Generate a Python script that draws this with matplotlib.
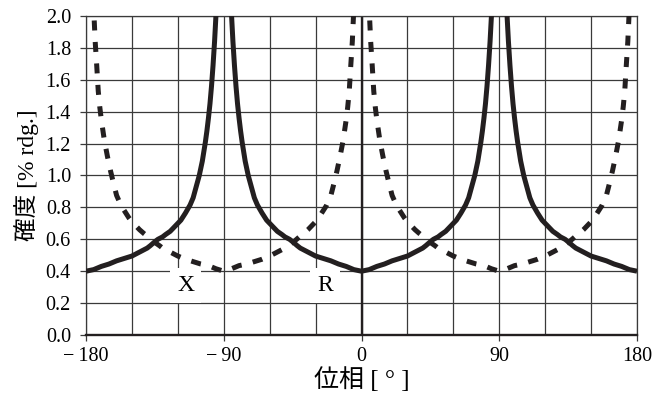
import matplotlib
matplotlib.use("Agg")
import matplotlib.pyplot as plt
import numpy as np

# ---- data ----
# Solid curve "R": accuracy [% rdg.] vs phase [deg], in four branches
r_phase_a = [-180, -175, -170, -165, -160, -155, -150, -145, -140, -138, -135, -133, -130, -128,
             -125, -123, -120, -118, -117, -115, -112, -110, -108, -106, -104, -102, -101, -100,
             -99, -98, -97, -96, -95, -94]
r_acc_a = [0.40, 0.41, 0.43, 0.445, 0.465, 0.48, 0.495, 0.52, 0.545, 0.56, 0.585, 0.60, 0.615, 0.63,
           0.65, 0.67, 0.70, 0.72, 0.735, 0.765, 0.815, 0.86, 0.93, 1.00, 1.09, 1.21, 1.28, 1.36,
           1.45, 1.56, 1.69, 1.84, 2.02, 2.25]
r_phase_b = [-86, -85, -84, -83, -82, -81, -80, -79, -78, -76, -74, -72, -70, -68, -65, -63, -62,
             -60, -57, -55, -52, -50, -47, -45, -42, -40, -35, -30, -25, -20, -15, -10, -5, 0]
r_acc_b = [2.25, 2.02, 1.84, 1.69, 1.56, 1.45, 1.36, 1.28, 1.21, 1.09, 1.00, 0.93, 0.86, 0.815,
           0.765, 0.735, 0.72, 0.70, 0.67, 0.65, 0.63, 0.615, 0.60, 0.585, 0.56, 0.545, 0.52, 0.495,
           0.48, 0.465, 0.445, 0.43, 0.41, 0.40]
r_phase_c = [5, 10, 15, 20, 25, 30, 35, 40, 42, 45, 47, 50, 52, 55, 57, 60, 62, 63, 65, 68, 70, 72,
             74, 76, 78, 79, 80, 81, 82, 83, 84, 85, 86]
r_acc_c = [0.41, 0.43, 0.445, 0.465, 0.48, 0.495, 0.52, 0.545, 0.56, 0.585, 0.60, 0.615, 0.63, 0.65,
           0.67, 0.70, 0.72, 0.735, 0.765, 0.815, 0.86, 0.93, 1.00, 1.09, 1.21, 1.28, 1.36, 1.45,
           1.56, 1.69, 1.84, 2.02, 2.25]
r_phase_d = [94, 95, 96, 97, 98, 99, 100, 101, 102, 104, 106, 108, 110, 112, 115, 117, 118, 120, 123,
             125, 128, 130, 133, 135, 138, 140, 145, 150, 155, 160, 165, 170, 175, 180]
r_acc_d = [2.25, 2.02, 1.84, 1.69, 1.56, 1.45, 1.36, 1.28, 1.21, 1.09, 1.00, 0.93, 0.86, 0.815,
           0.765, 0.735, 0.72, 0.70, 0.67, 0.65, 0.63, 0.615, 0.60, 0.585, 0.56, 0.545, 0.52, 0.495,
           0.48, 0.465, 0.445, 0.43, 0.41, 0.40]

# Dashed curve "X", negative-phase branch
x_phase_neg = [-176, -175, -174, -173, -172, -171, -170, -169, -168, -166, -164, -162, -160, -157,
               -155, -152, -150, -147, -145, -142, -140, -137, -135, -132, -130, -125, -120, -115,
               -110, -105, -100, -95, -90,
               -85, -80, -75, -70, -65, -60, -55, -50, -48, -45, -43, -40, -38, -35, -33, -30, -28,
               -25, -23, -20, -18, -16, -14, -12, -11, -10, -9, -8, -7, -6, -5, -4]
x_acc_neg = [2.30, 2.05, 1.84, 1.69, 1.53, 1.43, 1.35, 1.285, 1.22, 1.12, 1.03, 0.95, 0.875, 0.81,
             0.78, 0.735, 0.71, 0.68, 0.66, 0.635, 0.62, 0.595, 0.58, 0.56, 0.545, 0.52, 0.495, 0.475,
             0.46, 0.445, 0.435, 0.415, 0.40,
             0.415, 0.435, 0.445, 0.46, 0.475, 0.495, 0.52, 0.545, 0.56, 0.58, 0.595, 0.62, 0.635,
             0.66, 0.68, 0.71, 0.735, 0.78, 0.81, 0.875, 0.95, 1.03, 1.12, 1.22, 1.285, 1.35, 1.43,
             1.53, 1.69, 1.84, 2.05, 2.30]
# Dashed curve "X", positive-phase branch
x_phase_pos = [4, 5, 6, 7, 8, 9, 10, 11, 12, 14, 16, 18, 20, 23, 25, 28, 30, 33, 35, 38, 40, 43, 45,
               48, 50, 55, 60, 65, 70, 75, 80, 85, 90,
               95, 100, 105, 110, 115, 120, 125, 130, 132, 135, 137, 140, 142, 145, 147, 150, 152,
               155, 157, 160, 162, 164, 166, 168, 169, 170, 171, 172, 173, 174, 175, 176]
x_acc_pos = [2.30, 2.05, 1.84, 1.69, 1.53, 1.43, 1.35, 1.285, 1.22, 1.12, 1.03, 0.95, 0.875, 0.81,
             0.78, 0.735, 0.71, 0.68, 0.66, 0.635, 0.62, 0.595, 0.58, 0.56, 0.545, 0.52, 0.495, 0.475,
             0.46, 0.445, 0.435, 0.415, 0.40,
             0.415, 0.435, 0.445, 0.46, 0.475, 0.495, 0.52, 0.545, 0.56, 0.58, 0.595, 0.62, 0.635,
             0.66, 0.68, 0.71, 0.735, 0.78, 0.81, 0.875, 0.95, 1.03, 1.12, 1.22, 1.285, 1.35, 1.43,
             1.53, 1.69, 1.84, 2.05, 2.30]

x_ticks = [-180, -90, 0, 90, 180]
x_ticklabels = ["\u2212\u2009180", "\u2212\u200990", "0", "90", "180"]
y_ticks = [0.0, 0.2, 0.4, 0.6, 0.8, 1.0, 1.2, 1.4, 1.6, 1.8, 2.0]
y_ticklabels = ["0.0", "0.2", "0.4", "0.6", "0.8", "1.0", "1.2", "1.4", "1.6", "1.8", "2.0"]
x_label = "位相 [ ° ]"
y_label = "確度 [% rdg.]"
label_x = ("X", -115, 0.31)
label_r = ("R", -24, 0.31)

# ---- plot ----
serif = ["Liberation Serif", "Noto Sans CJK JP", "DejaVu Sans"]
plt.rcParams["font.family"] = serif

fig = plt.figure(figsize=(6.53, 3.96), dpi=100)
ax = fig.add_axes([86/653, 1-335/396, (637-86)/653, (335-16)/396])

ink = "#231f20"
gridc = "#3a3a3a"

ax.set_xlim(-180, 180)
ax.set_ylim(0, 2.0)
ax.set_xticks(x_ticks)
ax.set_xticklabels(x_ticklabels)
ax.set_xticks(np.arange(-180, 181, 30), minor=True)
ax.set_yticks(y_ticks)
ax.set_yticklabels(y_ticklabels)

ax.grid(True, which="both", axis="x", color=gridc, lw=0.9, zorder=1)
ax.grid(True, which="major", axis="y", color=gridc, lw=0.9, zorder=1)
ax.set_axisbelow(True)
ax.tick_params(axis="x", which="major", length=4, width=0.9, color=gridc, pad=4.5,
               labelsize=14.5, direction="out")
ax.tick_params(axis="x", which="minor", length=0)
ax.tick_params(axis="y", which="major", length=4.3, width=0.9, color=gridc, pad=6.5,
               labelsize=14.5, direction="out")

for s in ["left", "right", "top"]:
    ax.spines[s].set_color(gridc)
    ax.spines[s].set_linewidth(0.9)
ax.spines["bottom"].set_color(ink)
ax.spines["bottom"].set_linewidth(1.7)
ax.axvline(0, color=ink, lw=1.7, zorder=1.5)

r_phase = r_phase_a + r_phase_b + r_phase_c + r_phase_d
r_acc = r_acc_a + r_acc_b + r_acc_c + r_acc_d
ax.plot(r_phase, r_acc, color=ink, lw=3.6, solid_capstyle="butt",
        solid_joinstyle="round", zorder=4)
for xp, ya in [(x_phase_neg, x_acc_neg), (x_phase_pos, x_acc_pos)]:
    ax.plot(xp, ya, color=ink, lw=3.6, linestyle=(0, (2.0, 2.3)),
            dash_capstyle="butt", zorder=4)

for txt, tx, ty in [label_x, label_r]:
    ax.text(tx, ty, txt, fontsize=17, ha="center", va="center", zorder=3,
            bbox=dict(boxstyle="square,pad=0.3", fc="white", ec="none"))

ax.set_xlabel(x_label, fontsize=18, labelpad=1)
ax.set_ylabel(y_label, fontsize=17, labelpad=5)

fig.savefig("out.png", dpi=100)
